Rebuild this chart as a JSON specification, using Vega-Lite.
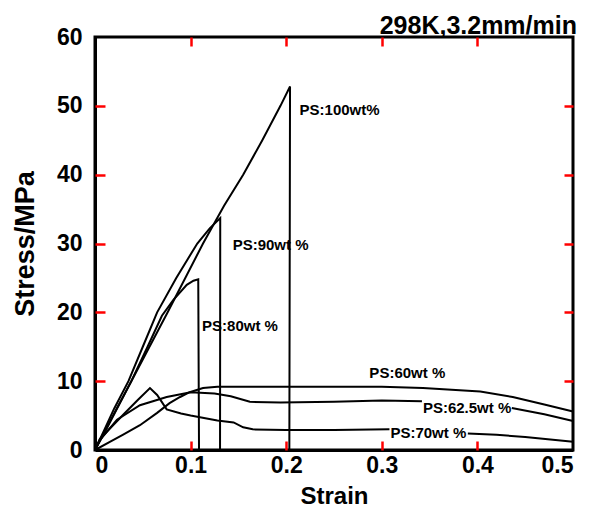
{
  "$schema": "https://vega.github.io/schema/vega-lite/v6.json",
  "width": 478,
  "height": 413,
  "autosize": {"type": "none"},
  "padding": {"left": 95, "top": 37, "right": 20, "bottom": 58},
  "background": "white",
  "config": {
    "view": {"stroke": "black", "strokeWidth": 3},
    "font": "Liberation Sans",
    "axis": {
      "domainColor": "black", "domainWidth": 3,
      "grid": false, "labelColor": "black", "labelFontSize": 23,
      "labelFontWeight": "bold", "labelFont": "Liberation Sans", "titleColor": "black",
      "titleFontSize": 25, "titleFontWeight": "bold", "titleFont": "Liberation Sans"
    }
  },
  "resolve": {"axis": {"x": "independent", "y": "independent"}},
  "title": {"text": "298K,3.2mm/min", "anchor": "end", "fontSize": 25, "fontWeight": "bold", "offset": -13, "color": "black", "font": "Liberation Sans"},
  "datasets": {
    "curves": [
      {"seg": "100", "i": 0, "strain": 0, "stress": 0},
      {"seg": "100", "i": 1, "strain": 0.01, "stress": 2.7},
      {"seg": "100", "i": 2, "strain": 0.038, "stress": 10},
      {"seg": "100", "i": 3, "strain": 0.076, "stress": 20},
      {"seg": "100", "i": 4, "strain": 0.113, "stress": 30},
      {"seg": "100", "i": 5, "strain": 0.135, "stress": 35.5},
      {"seg": "100", "i": 6, "strain": 0.155, "stress": 40},
      {"seg": "100", "i": 7, "strain": 0.175, "stress": 45},
      {"seg": "100", "i": 8, "strain": 0.194, "stress": 50},
      {"seg": "100", "i": 9, "strain": 0.204, "stress": 52.8},
      {"seg": "100", "i": 10, "strain": 0.2033, "stress": 0},
      {"seg": "90", "i": 0, "strain": 0, "stress": 0},
      {"seg": "90", "i": 1, "strain": 0.01, "stress": 3},
      {"seg": "90", "i": 2, "strain": 0.02, "stress": 6},
      {"seg": "90", "i": 3, "strain": 0.035, "stress": 10},
      {"seg": "90", "i": 4, "strain": 0.05, "stress": 15},
      {"seg": "90", "i": 5, "strain": 0.065, "stress": 20},
      {"seg": "90", "i": 6, "strain": 0.085, "stress": 25},
      {"seg": "90", "i": 7, "strain": 0.107, "stress": 30},
      {"seg": "90", "i": 8, "strain": 0.12, "stress": 32.2},
      {"seg": "90", "i": 9, "strain": 0.131, "stress": 33.7},
      {"seg": "90", "i": 10, "strain": 0.1308, "stress": 0},
      {"seg": "80", "i": 0, "strain": 0, "stress": 0},
      {"seg": "80", "i": 1, "strain": 0.01, "stress": 2.5},
      {"seg": "80", "i": 2, "strain": 0.02, "stress": 5.2},
      {"seg": "80", "i": 3, "strain": 0.038, "stress": 10},
      {"seg": "80", "i": 4, "strain": 0.055, "stress": 15},
      {"seg": "80", "i": 5, "strain": 0.07, "stress": 19.5},
      {"seg": "80", "i": 6, "strain": 0.082, "stress": 21.8},
      {"seg": "80", "i": 7, "strain": 0.096, "stress": 24},
      {"seg": "80", "i": 8, "strain": 0.103, "stress": 24.6},
      {"seg": "80", "i": 9, "strain": 0.108, "stress": 24.8},
      {"seg": "80", "i": 10, "strain": 0.1088, "stress": 0},
      {"seg": "60", "i": 0, "strain": 0, "stress": 0},
      {"seg": "60", "i": 1, "strain": 0.016, "stress": 1.2},
      {"seg": "60", "i": 2, "strain": 0.029, "stress": 2.2},
      {"seg": "60", "i": 3, "strain": 0.047, "stress": 3.6},
      {"seg": "60", "i": 4, "strain": 0.065, "stress": 5.4},
      {"seg": "60", "i": 5, "strain": 0.078, "stress": 6.8},
      {"seg": "60", "i": 6, "strain": 0.089, "stress": 7.7},
      {"seg": "60", "i": 7, "strain": 0.099, "stress": 8.4},
      {"seg": "60", "i": 8, "strain": 0.113, "stress": 9.0},
      {"seg": "60", "i": 9, "strain": 0.128, "stress": 9.2},
      {"seg": "60", "i": 10, "strain": 0.2, "stress": 9.2},
      {"seg": "60", "i": 11, "strain": 0.3, "stress": 9.2},
      {"seg": "60", "i": 12, "strain": 0.343, "stress": 9.0},
      {"seg": "60", "i": 13, "strain": 0.403, "stress": 8.5},
      {"seg": "60", "i": 14, "strain": 0.437, "stress": 7.7},
      {"seg": "60", "i": 15, "strain": 0.47, "stress": 6.6},
      {"seg": "60", "i": 16, "strain": 0.5, "stress": 5.6},
      {"seg": "62.5a", "i": 0, "strain": 0, "stress": 0},
      {"seg": "62.5a", "i": 1, "strain": 0.005, "stress": 1.4},
      {"seg": "62.5a", "i": 2, "strain": 0.023, "stress": 4.4},
      {"seg": "62.5a", "i": 3, "strain": 0.047, "stress": 6.5},
      {"seg": "62.5a", "i": 4, "strain": 0.075, "stress": 7.7},
      {"seg": "62.5a", "i": 5, "strain": 0.1, "stress": 8.4},
      {"seg": "62.5a", "i": 6, "strain": 0.125, "stress": 8.2},
      {"seg": "62.5a", "i": 7, "strain": 0.142, "stress": 7.8},
      {"seg": "62.5a", "i": 8, "strain": 0.162, "stress": 7.0},
      {"seg": "62.5a", "i": 9, "strain": 0.194, "stress": 6.9},
      {"seg": "62.5a", "i": 10, "strain": 0.25, "stress": 7.0},
      {"seg": "62.5a", "i": 11, "strain": 0.3, "stress": 7.2},
      {"seg": "62.5a", "i": 12, "strain": 0.342, "stress": 7.1},
      {"seg": "62.5b", "i": 0, "strain": 0.436, "stress": 6.1},
      {"seg": "62.5b", "i": 1, "strain": 0.47, "stress": 5.2},
      {"seg": "62.5b", "i": 2, "strain": 0.5, "stress": 4.2},
      {"seg": "70a", "i": 0, "strain": 0, "stress": 0},
      {"seg": "70a", "i": 1, "strain": 0.005, "stress": 1.6},
      {"seg": "70a", "i": 2, "strain": 0.03, "stress": 5.2},
      {"seg": "70a", "i": 3, "strain": 0.045, "stress": 7.3},
      {"seg": "70a", "i": 4, "strain": 0.0575, "stress": 9.0},
      {"seg": "70a", "i": 5, "strain": 0.065, "stress": 8.0},
      {"seg": "70a", "i": 6, "strain": 0.075, "stress": 5.9},
      {"seg": "70a", "i": 7, "strain": 0.09, "stress": 5.3},
      {"seg": "70a", "i": 8, "strain": 0.1, "stress": 5.0},
      {"seg": "70a", "i": 9, "strain": 0.128, "stress": 4.3},
      {"seg": "70a", "i": 10, "strain": 0.145, "stress": 4.0},
      {"seg": "70a", "i": 11, "strain": 0.155, "stress": 3.3},
      {"seg": "70a", "i": 12, "strain": 0.165, "stress": 3.0},
      {"seg": "70a", "i": 13, "strain": 0.2, "stress": 2.9},
      {"seg": "70a", "i": 14, "strain": 0.25, "stress": 2.9},
      {"seg": "70a", "i": 15, "strain": 0.308, "stress": 3.0},
      {"seg": "70b", "i": 0, "strain": 0.39, "stress": 2.4},
      {"seg": "70b", "i": 1, "strain": 0.42, "stress": 2.2},
      {"seg": "70b", "i": 2, "strain": 0.45, "stress": 1.9},
      {"seg": "70b", "i": 3, "strain": 0.5, "stress": 1.2}
    ],
    "labels": [
      {"label": "PS:100wt%", "strain": 0.214, "stress": 49.4},
      {"label": "PS:90wt %", "strain": 0.144, "stress": 29.8},
      {"label": "PS:80wt %", "strain": 0.112, "stress": 18.0},
      {"label": "PS:60wt %", "strain": 0.287, "stress": 11.2},
      {"label": "PS:62.5wt %", "strain": 0.343, "stress": 6.1},
      {"label": "PS:70wt %", "strain": 0.309, "stress": 2.5}
    ]
  },
  "layer": [
    {
      "data": {"name": "curves"},
      "mark": {"type": "line", "color": "black", "strokeWidth": 2},
      "encoding": {
        "x": {"field": "strain", "type": "quantitative", "scale": {"domain": [0, 0.5], "nice": false},
              "axis": {"orient": "bottom", "values": [0, 0.1, 0.2, 0.3, 0.4, 0.5], "format": "~g", "title": "Strain", "ticks": false, "labelPadding": 4, "titlePadding": 7, "titleFontSize": 24}},
        "y": {"field": "stress", "type": "quantitative", "scale": {"domain": [0, 60], "nice": false},
              "axis": {"orient": "left", "values": [0, 10, 20, 30, 40, 50, 60], "title": "Stress/MPa", "ticks": false, "labelPadding": 13, "titlePadding": 17, "titleFontSize": 27}},
        "detail": {"field": "seg"},
        "order": {"field": "i"}
      }
    },
    {
      "data": {"name": "curves"},
      "mark": {"type": "point", "opacity": 0},
      "encoding": {
        "x": {"field": "strain", "type": "quantitative",
              "axis": {"orient": "top", "values": [0.1, 0.2, 0.3, 0.4], "labels": false, "title": null, "domain": false, "offset": -9, "tickSize": 9, "ticks": true, "tickColor": "red", "tickWidth": 2.5}},
        "y": {"field": "stress", "type": "quantitative",
              "axis": {"orient": "right", "values": [10, 20, 30, 40, 50], "labels": false, "title": null, "domain": false, "offset": -9, "tickSize": 9, "ticks": true, "tickColor": "red", "tickWidth": 2.5}}
      }
    },
    {
      "data": {"name": "curves"},
      "mark": {"type": "point", "opacity": 0},
      "encoding": {
        "x": {"field": "strain", "type": "quantitative",
              "axis": {"orient": "bottom", "values": [0.1, 0.2, 0.3, 0.4], "labels": false, "title": null, "domain": false, "offset": -9, "tickSize": 9, "ticks": true, "tickColor": "red", "tickWidth": 2.5}},
        "y": {"field": "stress", "type": "quantitative",
              "axis": {"orient": "left", "values": [10, 20, 30, 40, 50], "labels": false, "title": null, "domain": false, "offset": -10, "tickSize": 10, "ticks": true, "tickColor": "red", "tickWidth": 2.5}}
      }
    },
    {
      "data": {"name": "labels"},
      "mark": {"type": "text", "align": "left", "baseline": "middle", "fontSize": 15, "fontWeight": "bold", "font": "Liberation Sans", "color": "black"},
      "encoding": {
        "x": {"field": "strain", "type": "quantitative", "axis": null},
        "y": {"field": "stress", "type": "quantitative", "axis": null},
        "text": {"field": "label"}
      }
    }
  ]
}
